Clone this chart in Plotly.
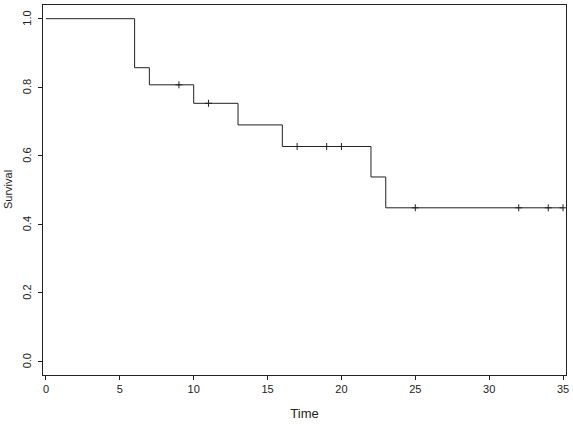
import plotly.graph_objects as go

# Kaplan-Meier step curve
step_times = [0, 6, 7, 10, 13, 16, 22, 23, 35]
step_surv = [1.0, 0.857, 0.807, 0.753, 0.690, 0.627, 0.538, 0.448, 0.448]

# censored observations (visible marks)
cens_times = [9, 11, 17, 19, 20, 25, 32, 34, 35]
cens_surv = [0.807, 0.753, 0.627, 0.627, 0.627, 0.448, 0.448, 0.448, 0.448]

x_ticks = [0, 5, 10, 15, 20, 25, 30, 35]
y_ticks = [0.0, 0.2, 0.4, 0.6, 0.8, 1.0]
y_labels = ["0.0", "0.2", "0.4", "0.6", "0.8", "1.0"]

fig = go.Figure()
fig.add_trace(go.Scatter(x=step_times, y=step_surv, mode="lines",
                         line=dict(shape="hv", color="#222222", width=1),
                         hoverinfo="skip", showlegend=False))
fig.add_trace(go.Scatter(x=cens_times, y=cens_surv, mode="markers",
                         marker=dict(symbol="cross-thin", size=5,
                                     line=dict(color="#222222", width=1)),
                         showlegend=False))

font = dict(family="Liberation Sans, Arial, sans-serif", size=11, color="#222222")

annotations = [dict(text=lab, x=0, y=v, xref="paper", yref="y", xshift=-16,
                    xanchor="center", yanchor="middle", showarrow=False,
                    textangle=-90, font=font)
               for v, lab in zip(y_ticks, y_labels)]
annotations.append(dict(text="Survival", x=0, y=0.5, xref="paper", yref="paper",
                        xshift=-35, xanchor="center",
                        showarrow=False, textangle=-90, font=font))

fig.update_layout(
    width=573, height=429,
    margin=dict(l=43, r=4, t=4, b=54),
    paper_bgcolor="white", plot_bgcolor="white",
    font=font,
    xaxis=dict(range=[-0.2, 35.2], tickvals=x_ticks, ticks="outside", ticklen=4,
               tickcolor="#222222", showgrid=False, zeroline=False,
               showline=True, linecolor="#222222", linewidth=1, mirror=True,
               title=dict(text="Time", standoff=14), tickfont=font),
    yaxis=dict(range=[-0.04, 1.04], tickvals=y_ticks, showticklabels=False,
               ticks="outside", ticklen=4,
               tickcolor="#222222", showgrid=False, zeroline=False,
               showline=True, linecolor="#222222", linewidth=1, mirror=True),
    annotations=annotations,
)

fig.write_html("out.html")
